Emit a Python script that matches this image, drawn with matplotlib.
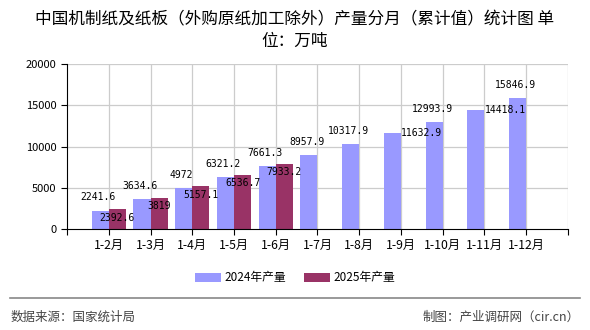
import matplotlib
matplotlib.use("Agg")
import matplotlib.pyplot as plt
import numpy as np

plt.rcParams['font.family'] = ['Noto Sans CJK SC', 'DejaVu Sans']

# data
months = ['1-2月', '1-3月', '1-4月', '1-5月', '1-6月', '1-7月',
          '1-8月', '1-9月', '1-10月', '1-11月', '1-12月']
prod_2024 = [2241.6, 3634.6, 4972, 6321.2, 7661.3, 8957.9,
             10317.9, 11632.9, 12993.9, 14418.1, 15846.9]
prod_2025 = [2392.6, 3819, 5157.1, 6536.7, 7933.2]

c2024 = '#9999ff'
c2025 = '#993366'

fig = plt.figure(figsize=(5.9, 3.3), dpi=100)
ax = fig.add_axes([0.1136, 0.306, 0.849, 0.5])

x = np.arange(len(months))
w = 0.41
b1 = ax.bar(x - w / 2, prod_2024, w, color=c2024, label='2024年产量', zorder=2)
x25 = np.arange(len(prod_2025))
b2 = ax.bar(x25 + w / 2, prod_2025, w, color=c2025, label='2025年产量', zorder=2)

# value labels (some of the 2024 ones are pushed to the right like in the original)
side = {7, 9}
for i, v in enumerate(prod_2024):
    if i in side:
        off = (21, 0)
    else:
        off = (-1.5, 9.5)
    ax.annotate(f"{v:g}", (x[i] - w / 2, v), xytext=off, textcoords='offset points',
                ha='center', va='center', fontsize=7, family='DejaVu Sans Mono', zorder=3)
for i, v in enumerate(prod_2025):
    ax.annotate(f"{v:g}", (x25[i] + w / 2, v), xytext=(0, -6), textcoords='offset points',
                ha='center', va='center', fontsize=7, family='DejaVu Sans Mono', zorder=3)

n = len(months)
ax.set_xlim(-1, n)
ax.set_ylim(0, 20000)
ax.set_yticks(np.arange(0, 20001, 5000))
ax.set_xticks(np.arange(-1, n + 1))
ax.set_xticklabels([''] + months + [''], fontsize=8.8)
ax.tick_params(axis='y', labelsize=8, length=4)
ax.tick_params(axis='x', length=4, pad=3)

# grid: horizontal at y ticks, vertical at every category position
for yv in np.arange(5000, 20001, 5000):
    ax.axhline(yv, color='#cccccc', lw=0.9, zorder=0)
for xv in np.arange(0, n + 1):
    ax.axvline(xv, color='#cccccc', lw=0.9, zorder=0)

for s in ['top', 'right']:
    ax.spines[s].set_visible(False)
ax.spines['left'].set_color('black')
ax.spines['bottom'].set_color('black')

fig.text(0.5, 0.939, '中国机制纸及纸板（外购原纸加工除外）产量分月（累计值）统计图 单',
         ha='center', va='center', fontsize=12)
fig.text(0.5, 0.876, '位：万吨', ha='center', va='center', fontsize=12)

fig.legend(handles=[b1, b2], loc='center', bbox_to_anchor=(0.5, 0.158), ncol=2,
           frameon=False, fontsize=8.5, handlelength=2.2, handleheight=0.8,
           columnspacing=1.5, handletextpad=0.3)

fig.add_artist(plt.Line2D([0.017, 0.983], [0.097, 0.097], color='#888888', lw=1.2))
fig.text(0.017, 0.039, '数据来源：国家统计局', ha='left', va='center', fontsize=9, color='#444444')
fig.text(0.983, 0.039, '制图：产业调研网（cir.cn）', ha='right', va='center', fontsize=9, color='#444444')

fig.savefig('out.png', dpi=100)
